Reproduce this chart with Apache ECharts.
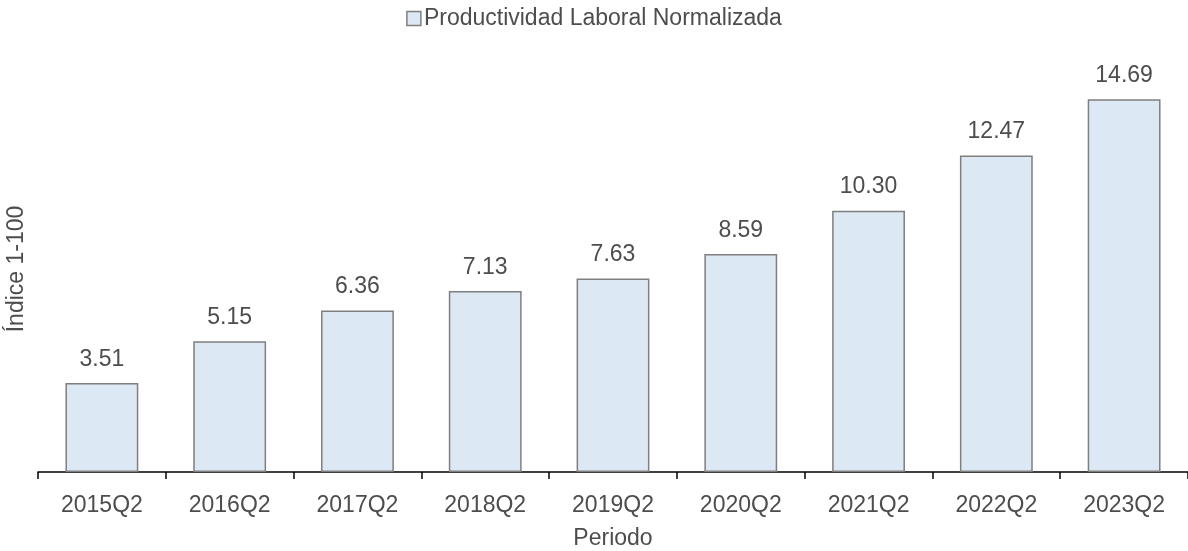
<!DOCTYPE html>
<html>
  <head>
    <meta charset="utf-8" />
    <title>Productividad Laboral Normalizada</title>
    <script src="https://cdn.jsdelivr.net/npm/echarts@6/dist/echarts.min.js"></script>
    <style>
      html, body { margin: 0; padding: 0; background: #fff; }
    </style>
  </head>
  <body>
    <div id="main" style="width: 1188px; height: 551px;"></div>
    <script type="text/javascript">
      // datos
      const periodos = ["2015Q2", "2016Q2", "2017Q2", "2018Q2", "2019Q2", "2020Q2", "2021Q2", "2022Q2", "2023Q2"];
      const productividad = [3.51, 5.15, 6.36, 7.13, 7.63, 8.59, 10.3, 12.47, 14.69];

      const font = "'Liberation Sans', Arial, sans-serif";
      const fs = 23;
      const txt = "#4d4d4d";
      const myChart = echarts.init(document.getElementById("main"));
      const option = {
        animation: false,
        textStyle: { fontFamily: font },
        legend: {
          top: 2,
          left: "center",
          icon: "rect",
          itemWidth: 14,
          itemHeight: 14,
          itemGap: 4,
          itemStyle: { borderColor: "#7f7f7f", borderWidth: 1.5 },
          textStyle: { fontSize: fs, color: txt, fontFamily: font, padding: [0, 0, 0, -2] },
          data: ["Productividad Laboral Normalizada"],
        },
        grid: {
          left: 38,
          right: 0,
          top: 66,
          bottom: 79,
          outerBoundsMode: "none",
        },
        xAxis: {
          type: "category",
          data: periodos,
          name: "Periodo",
          nameLocation: "middle",
          nameGap: 55,
          nameTextStyle: { fontSize: fs, color: txt },
          axisLine: { show: true, lineStyle: { color: "#000", width: 1.5 } },
          axisTick: {
            show: true,
            inside: false,
            alignWithLabel: false,
            interval: 0,
            length: 7,
            lineStyle: { color: "#000", width: 1.5 },
          },
          axisLabel: { fontSize: fs, color: txt, margin: 22, interval: 0 },
        },
        yAxis: {
          type: "value",
          min: 0,
          max: 16,
          name: "Índice 1-100",
          nameLocation: "middle",
          nameGap: 10,
          nameTextStyle: { fontSize: fs, color: txt },
          axisLine: { show: false },
          axisTick: { show: false },
          axisLabel: { show: false },
          splitLine: { show: false },
        },
        series: [
          {
            name: "Productividad Laboral Normalizada",
            type: "bar",
            barWidth: "57%",
            data: productividad,
            itemStyle: {
              color: "#dde8f5",
              borderColor: "#7f7f7f",
              borderWidth: 1.5,
            },
            label: {
              show: true,
              position: "top",
              distance: 12,
              fontSize: fs,
              color: txt,
              formatter: p => p.value.toFixed(2),
            },
          },
        ],
      };
      myChart.setOption(option);
    </script>
  </body>
</html>
